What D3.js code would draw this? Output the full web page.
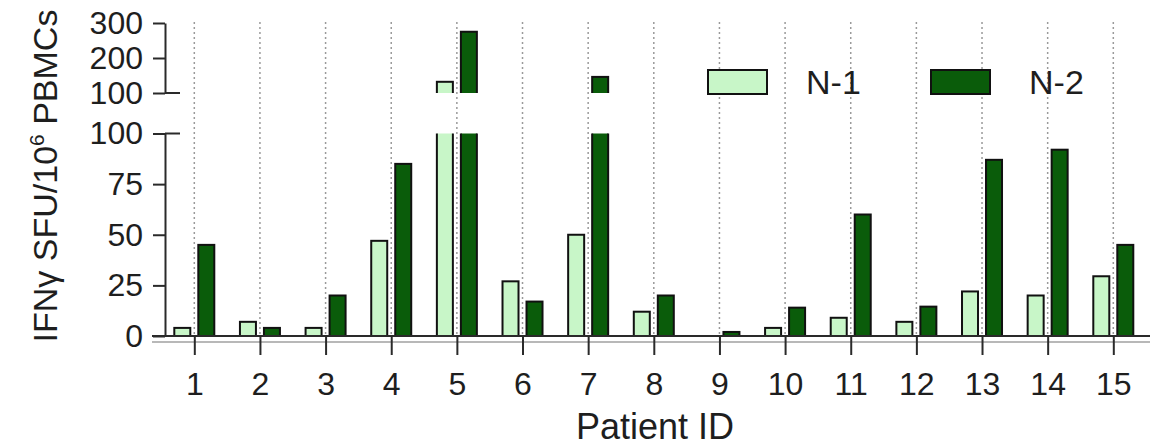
<!DOCTYPE html>
<html>
<head>
<meta charset="utf-8">
<script src="https://cdn.jsdelivr.net/npm/d3@7"></script>
<style>
  body { margin: 0; background: #fff; }
  svg text { font-family: "Liberation Sans", Arial, Helvetica, sans-serif; fill: #1e1e1e; }
</style>
</head>
<body>
<svg id="chart"></svg>
<script>
// data
const patients = ['1','2','3','4','5','6','7','8','9','10','11','12','13','14','15'];
const seriesNames = ['N-1', 'N-2'];
const n1Values = [4, 7, 4, 47, 132, 27, 50, 12, 0, 4, 9, 7, 22, 20, 29.5];
const n2Values = [45, 4, 20, 85, 275, 17, 146, 20, 2, 14, 60, 14.5, 87, 92, 45];
const lowerTicks = [0, 25, 50, 75, 100];
const upperTicks = [100, 200, 300];
const seriesColors = ['#c8f6c8', '#0a5c0a'];

class BrokenBarChart {

    constructor(_config) {
      this.config = {
        parentElement: _config.parentElement,
        containerWidth: _config.containerWidth,
        containerHeight: _config.containerHeight,
        axisX: 165,
        lowerRange: [336, 133.5],
        upperRange: [93, 23],
        xRange: [194.3, 1113.3]
      }
      this.initVis();
    }

    initVis() {
        let vis = this;

        vis.svg = d3.select(vis.config.parentElement)
            .attr('width', vis.config.containerWidth)
            .attr('height', vis.config.containerHeight);

        vis.x = d3.scalePoint()
            .domain(patients)
            .range(vis.config.xRange);

        vis.xSub = d3.scaleBand()
            .domain(seriesNames)
            .range([-20, 20])
            .paddingInner(1 / 3);

        vis.yLower = d3.scaleLinear().domain([0, 100]).range(vis.config.lowerRange);
        vis.yUpper = d3.scaleLinear().domain([100, 300]).range(vis.config.upperRange);

        vis.color = d3.scaleOrdinal().domain(seriesNames).range(seriesColors);

        let defs = vis.svg.append('defs');
        defs.append('clipPath').attr('id', 'clip-lower')
          .append('rect')
            .attr('x', 0).attr('y', vis.yLower(100))
            .attr('width', vis.config.containerWidth).attr('height', 300);
        defs.append('clipPath').attr('id', 'clip-upper')
          .append('rect')
            .attr('x', 0).attr('y', 0)
            .attr('width', vis.config.containerWidth).attr('height', vis.yUpper(100));
    }

    renderVis() {
        let vis = this;
        let base = vis.yLower(0);

        // dotted guides at each patient
        vis.svg.append('g').selectAll('line')
          .data(patients)
          .join('line')
            .attr('x1', d => vis.x(d)).attr('x2', d => vis.x(d))
            .attr('y1', vis.yUpper(300) - 1).attr('y2', base)
            .attr('stroke', '#9a9a9a')
            .attr('stroke-width', 1.5)
            .attr('stroke-dasharray', '2,3');

        let rows = [];
        patients.forEach((p, i) => {
            rows.push({p: p, s: 'N-1', v: n1Values[i]});
            rows.push({p: p, s: 'N-2', v: n2Values[i]});
        });
        rows = rows.filter(d => d.v > 0);

        // lower segment 0-100
        vis.svg.append('g').attr('clip-path', 'url(#clip-lower)')
          .selectAll('rect')
          .data(rows)
          .join('rect')
            .attr('x', d => vis.x(d.p) + vis.xSub(d.s))
            .attr('width', vis.xSub.bandwidth())
            .attr('y', d => d.v > 100 ? vis.yLower(100) - 5 : vis.yLower(d.v))
            .attr('height', d => base - (d.v > 100 ? vis.yLower(100) - 5 : vis.yLower(d.v)))
            .attr('fill', d => vis.color(d.s))
            .attr('stroke', '#111')
            .attr('stroke-width', 2);

        // upper segment 100-300
        vis.svg.append('g').attr('clip-path', 'url(#clip-upper)')
          .selectAll('rect')
          .data(rows.filter(d => d.v > 100))
          .join('rect')
            .attr('x', d => vis.x(d.p) + vis.xSub(d.s))
            .attr('width', vis.xSub.bandwidth())
            .attr('y', d => vis.yUpper(d.v))
            .attr('height', d => vis.yUpper(100) + 5 - vis.yUpper(d.v))
            .attr('fill', d => vis.color(d.s))
            .attr('stroke', '#111')
            .attr('stroke-width', 2);

        // baseline and the grey line under it
        vis.svg.append('line')
            .attr('x1', 152).attr('x2', 1150)
            .attr('y1', base + 6).attr('y2', base + 6)
            .attr('stroke', '#b8b8b8').attr('stroke-width', 2);
        vis.svg.append('line')
            .attr('x1', 152).attr('x2', 1150)
            .attr('y1', base).attr('y2', base)
            .attr('stroke', '#2a2a2a').attr('stroke-width', 2);

        // x axis ticks + labels
        let xAxis = vis.svg.append('g')
            .attr('transform', `translate(0, ${base})`)
            .call(d3.axisBottom(vis.x).tickSize(19).tickPadding(17).tickSizeOuter(0));
        xAxis.select('.domain').remove();
        xAxis.selectAll('line').attr('stroke', '#2a2a2a').attr('stroke-width', 2);
        xAxis.selectAll('text').style('font-size', '32px').attr('fill', '#1e1e1e');

        // y axes, both pieces
        let yL = vis.svg.append('g')
            .attr('transform', `translate(${vis.config.axisX}, 0)`)
            .call(d3.axisLeft(vis.yLower).tickValues(lowerTicks).tickSize(12).tickPadding(10).tickSizeOuter(0));
        let yU = vis.svg.append('g')
            .attr('transform', `translate(${vis.config.axisX}, 0)`)
            .call(d3.axisLeft(vis.yUpper).tickValues(upperTicks).tickSize(12).tickPadding(10).tickSizeOuter(0));
        [yL, yU].forEach(a => {
            a.select('.domain').attr('stroke', '#2a2a2a').attr('stroke-width', 2);
            a.selectAll('line').attr('stroke', '#2a2a2a').attr('stroke-width', 2);
            a.selectAll('text').style('font-size', '32px').attr('fill', '#1e1e1e');
        });

        // break marks: the 100 ticks run past the axis
        vis.svg.append('g').selectAll('line')
          .data([vis.yLower(100), vis.yUpper(100)])
          .join('line')
            .attr('x1', vis.config.axisX).attr('x2', vis.config.axisX + 15)
            .attr('y1', d => d).attr('y2', d => d)
            .attr('stroke', '#2a2a2a').attr('stroke-width', 2);

        // axis titles
        let yTitle = vis.svg.append('text')
            .attr('transform', 'translate(57, 176) rotate(-90)')
            .attr('text-anchor', 'middle')
            .style('font-size', '34px');
        yTitle.append('tspan').text('IFNγ SFU/10');
        yTitle.append('tspan').attr('dy', -13).style('font-size', '21px').text('6');
        yTitle.append('tspan').attr('dy', 13).text(' PBMCs');

        vis.svg.append('text')
            .attr('x', 655).attr('y', 439)
            .attr('text-anchor', 'middle')
            .style('font-size', '36px')
            .text('Patient ID');

        // legend
        let legend = vis.svg.append('g').selectAll('g')
          .data(seriesNames)
          .join('g')
            .attr('transform', (d, i) => `translate(${708 + i * 223}, 70)`);
        legend.append('rect')
            .attr('width', 59).attr('height', 24)
            .attr('fill', d => vis.color(d))
            .attr('stroke', '#111').attr('stroke-width', 2);
        legend.append('text')
            .attr('x', 98).attr('y', 24)
            .style('font-size', '34px')
            .text(d => d);
    }
}

let chart = new BrokenBarChart({
    parentElement: '#chart',
    containerWidth: 1158,
    containerHeight: 448
});
chart.renderVis();
</script>
</body>
</html>
